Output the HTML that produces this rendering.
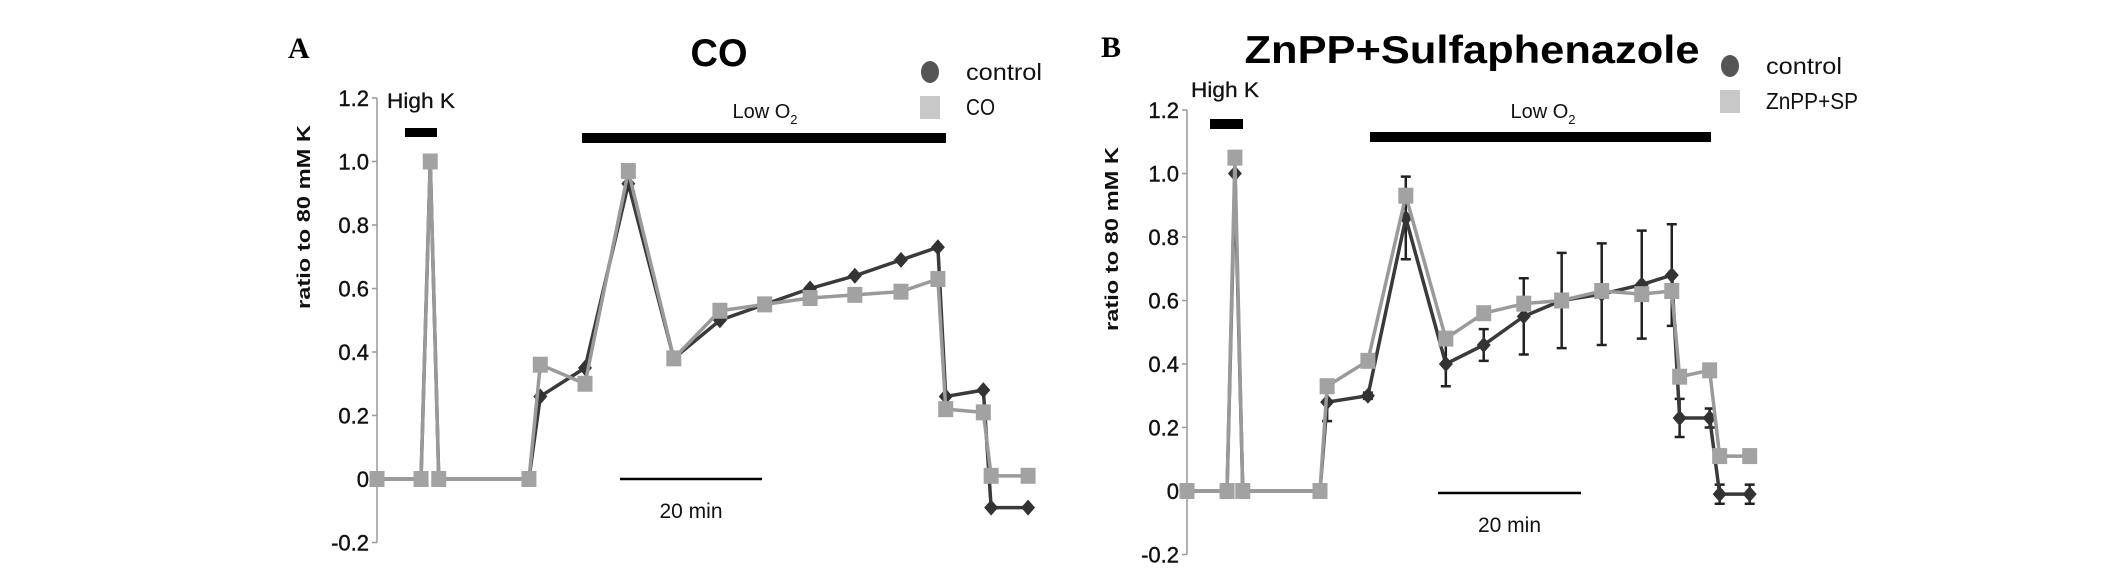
<!DOCTYPE html>
<html><head><meta charset="utf-8"><style>
html,body{margin:0;padding:0;background:#fff;}
svg{display:block;font-family:"Liberation Sans",sans-serif;}
</style></head><body>
<svg id="fig" width="2126" height="576" viewBox="0 0 2126 576"></svg>
<script>
// Panel A data (time in minutes)
const timesA = [0,6.2,7.5,8.7,21.4,23,29.3,35.4,41.8,48.3,54.6,61,67.3,73.8,79,80.1,85.4,86.5,91.7];
const controlA = [0,0,1.0,0,0,0.26,0.35,0.93,0.38,0.50,0.55,0.60,0.64,0.69,0.73,0.26,0.28,-0.09,-0.09];
const coA = [0,0,1.0,0,0,0.36,0.30,0.97,0.38,0.53,0.55,0.57,0.58,0.59,0.63,0.22,0.21,0.01,0.01];
// Panel B data
const timesB = [0,5.6,6.7,7.8,18.6,19.6,25.3,30.6,36.2,41.5,47.1,52.4,58,63.6,67.8,68.9,73.1,74.5,78.7];
const controlB = [0,0,1.0,0,0,0.28,0.30,0.86,0.40,0.46,0.55,0.60,0.62,0.65,0.68,0.23,0.23,-0.01,-0.01];
const errB = [0,0,0,0,0,0.06,0.01,0.13,0.07,0.05,0.12,0.15,0.16,0.17,0.16,0.06,0.03,0.03,0.03];
const spB = [0,0,1.05,0,0,0.33,0.41,0.93,0.48,0.56,0.59,0.60,0.63,0.62,0.63,0.36,0.38,0.11,0.11];
const yTicks = [1.2,1.0,0.8,0.6,0.4,0.2,0,-0.2];
const yTickLabels = ["1.2","1.0","0.8","0.6","0.4","0.2","0","-0.2"];

const NS="http://www.w3.org/2000/svg";
const svg=document.getElementById('fig');
function mk(tag,attrs,parent,text){
  const e=document.createElementNS(NS,tag);
  for(const k in attrs)e.setAttribute(k,attrs[k]);
  if(text!==undefined)e.textContent=text;
  (parent||svg).appendChild(e);return e;
}

function panel(p){
  const g=mk('g',{});
  
  
  const X=t=>p.x0+t*p.pxPerMin;
  const Y=v=>p.y0-v*p.pxPerUnit;
  const ax=mk('line',{x1:p.x0,x2:p.x0,y1:Y(1.2),y2:Y(-0.2),stroke:'#999','stroke-width':1.5},g);
  
  yTicks.forEach((v,i)=>{
    mk('line',{x1:p.x0-5,x2:p.x0,y1:Y(v),y2:Y(v),stroke:'#999','stroke-width':1.5},g);
    const t=mk('text',{x:p.x0-8,y:Y(v)+8,'text-anchor':'end','font-size':22,fill:'#111',stroke:'#111','stroke-width':0.4},g,yTickLabels[i]);
    
  });
  const yt=mk('text',{transform:`translate(${p.ytx},${p.yty}) rotate(-90)`,'text-anchor':'middle','font-size':18,'font-weight':'bold',fill:'#111',textLength:184,lengthAdjust:'spacingAndGlyphs'},g,'ratio to 80 mM K');
  
  const L=mk('text',{x:p.letterX,y:p.letterY,'font-family':'Liberation Serif,serif','font-size':30,'font-weight':'bold'},g,p.letter);
  
  const T=mk('text',{x:p.titleX,y:p.titleY,'text-anchor':'middle','font-size':39,'font-weight':'bold',fill:'#000',textLength:p.titleW,lengthAdjust:'spacingAndGlyphs'},g,p.title);
  
  const hk=mk('text',{x:p.hkTextX,y:p.hkTextY,'font-size':21,fill:'#111',stroke:'#111','stroke-width':0.3,textLength:68,lengthAdjust:'spacingAndGlyphs'},g,'High K');
  
  const hb=mk('rect',p.hkBar,g);hb.setAttribute('fill','#000');
  
  const lo=mk('text',{x:p.loTextX,y:p.loTextY,'text-anchor':'middle','font-size':20,fill:'#111'},g);
  
  lo.appendChild(document.createTextNode('Low O'));
  const sub=document.createElementNS(NS,'tspan');sub.setAttribute('font-size','13');sub.setAttribute('dy','6');sub.textContent='2';lo.appendChild(sub);
  const lb=mk('rect',p.loBar,g);lb.setAttribute('fill','#000');
  
  const sb=mk('line',{x1:p.sbX,x2:p.sbX+20*p.pxPerMin,y1:p.sbY,y2:p.sbY,stroke:'#000','stroke-width':2.5},g);
  
  const st=mk('text',{x:p.sbX+10*p.pxPerMin,y:p.sbLabelY,'text-anchor':'middle','font-size':21,fill:'#111'},g,'20 min');
  
  if(p.err){
    p.times.forEach((t,i)=>{
      if(!p.err[i])return;
      const x=X(t);
      const eb=mk('path',{d:`M${x},${Y(p.ctrl[i]-p.err[i])}V${Y(p.ctrl[i]+p.err[i])}M${x-5},${Y(p.ctrl[i]+p.err[i])}H${x+5}M${x-5},${Y(p.ctrl[i]-p.err[i])}H${x+5}`,stroke:'#222','stroke-width':2.5,fill:'none'},g);
      
    });
  }
  const cl=mk('polyline',{points:p.times.map((t,i)=>X(t)+','+Y(p.ctrl[i])).join(' '),fill:'none',stroke:'#3a3a3a','stroke-width':3.5},g);
  
  p.times.forEach((t,i)=>{
    const x=X(t),y=Y(p.ctrl[i]);
    const d=mk('polygon',{points:`${x},${y-8} ${x+7},${y} ${x},${y+8} ${x-7},${y}`,fill:'#333'},g);
    
  });
  const tl=mk('polyline',{points:p.times.map((t,i)=>X(t)+','+Y(p.trt[i])).join(' '),fill:'none',stroke:'#9a9a9a','stroke-width':3.5},g);
  
  p.times.forEach((t,i)=>{
    const x=X(t),y=Y(p.trt[i]);
    const s=mk('rect',{x:x-7.5,y:y-8,width:15,height:16,fill:'#a2a2a2'},g);
    
  });
  const lc=mk('ellipse',{cx:p.legX,cy:p.legY,rx:9,ry:11,fill:'#555'},g);
  
  const lct=mk('text',{x:p.legX+36,y:p.legY+8,'font-size':23,fill:'#111',textLength:76,lengthAdjust:'spacingAndGlyphs'},g,'control');
  
  const ls=mk('rect',{x:p.legX-10,y:p.legY+24,width:20,height:23,fill:'#c8c8c8'},g);
  
  const lst=mk('text',{x:p.legX+36,y:p.legY+43,'font-size':23,fill:'#111',textLength:p.trtW,lengthAdjust:'spacingAndGlyphs'},g,p.trtName);
  
}

panel({id:'a',x0:377,y0:479,pxPerUnit:317.5,pxPerMin:7.1,times:timesA,ctrl:controlA,trt:coA,
  ytx:310,yty:217,letter:'A',letterX:288,letterY:58,title:'CO',titleX:719,titleY:66,titleW:57,
  hkTextX:387,hkTextY:108,hkBar:{x:405,y:128,width:32,height:9},
  loTextX:765,loTextY:118,loBar:{x:582,y:133,width:364,height:10},
  sbX:620,sbY:479,sbLabelY:518,legX:930,legY:72,trtName:'CO',trtW:29});
panel({id:'b',x0:1187,y0:491,pxPerUnit:317.5,pxPerMin:7.15,times:timesB,ctrl:controlB,trt:spB,err:errB,
  ytx:1118,yty:239,letter:'B',letterX:1101,letterY:57,title:'ZnPP+Sulfaphenazole',titleX:1472,titleY:63,titleW:455,
  hkTextX:1191,hkTextY:97,hkBar:{x:1210,y:119,width:33,height:10},
  loTextX:1543,loTextY:118,loBar:{x:1370,y:132,width:341,height:10},
  sbX:1438,sbY:493,sbLabelY:532,legX:1730,legY:66,trtName:'ZnPP+SP',trtW:92});
</script>
</body></html>
